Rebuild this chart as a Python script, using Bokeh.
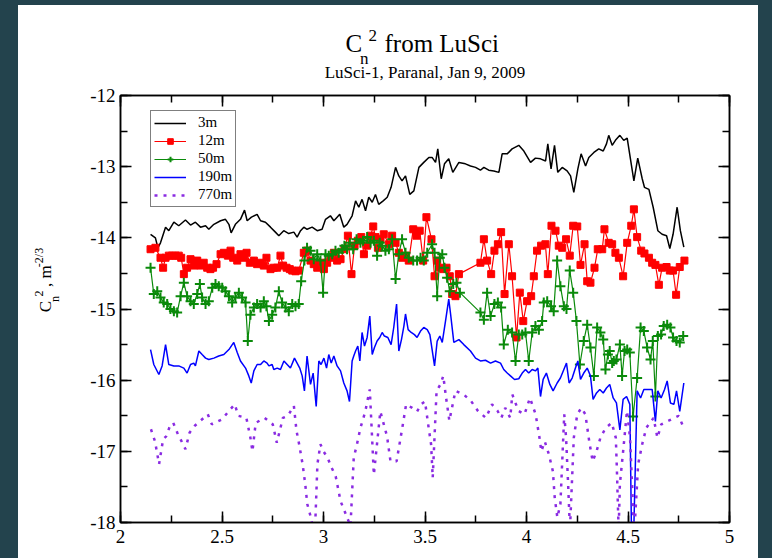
import math
from bokeh.plotting import figure
from bokeh.models import (Legend, LegendItem, LinearAxis, Range1d,
                          SingleIntervalTicker, CustomJSTickFormatter)
from bokeh.core.properties import value
from bokeh.layouts import column, row
from bokeh.embed import file_html
from bokeh.resources import INLINE

# ---------------- data (hour, log10 Cn2) ----------------
cn2_3m = [(2.148,-13.95),(2.172,-14.00),(2.184,-14.14),(2.197,-14.07),(2.222,-13.85),(2.238,-13.90),
    (2.263,-13.78),(2.287,-13.83),(2.320,-13.75),(2.345,-13.82),(2.369,-13.78),(2.394,-13.85),
    (2.419,-13.83),(2.435,-13.88),(2.460,-13.81),(2.493,-13.76),(2.517,-13.74),(2.534,-13.81),
    (2.545,-13.93),(2.566,-13.81),(2.591,-13.74),(2.611,-13.61),(2.624,-13.76),(2.645,-13.71),
    (2.673,-13.67),(2.690,-13.76),(2.714,-13.78),(2.739,-13.85),(2.763,-13.92),(2.780,-13.97),
    (2.804,-13.90),(2.829,-13.94),(2.854,-13.92),(2.870,-13.99),(2.887,-13.90),(2.903,-13.85),
    (2.919,-13.88),(2.944,-13.85),(2.969,-13.90),(2.993,-13.88),(3.010,-13.74),(3.034,-13.69),
    (3.051,-13.76),(3.067,-13.71),(3.080,-13.67),(3.100,-13.85),(3.116,-13.81),(3.141,-13.69),
    (3.158,-13.48),(3.174,-13.57),(3.190,-13.46),(3.207,-13.62),(3.223,-13.43),(3.240,-13.50),
    (3.256,-13.39),(3.272,-13.53),(3.294,-13.48),(3.314,-13.43),(3.333,-13.29),(3.355,-13.01),
    (3.371,-13.13),(3.387,-13.20),(3.404,-13.13),(3.425,-13.39),(3.445,-13.34),(3.470,-13.01),
    (3.494,-12.94),(3.519,-12.87),(3.535,-12.87),(3.552,-12.94),(3.563,-12.75),(3.580,-13.17),
    (3.596,-12.96),(3.617,-12.89),(3.637,-13.08),(3.667,-12.94),(3.699,-12.96),(3.724,-12.99),
    (3.749,-13.01),(3.773,-13.05),(3.790,-13.01),(3.814,-13.05),(3.839,-13.06),(3.864,-13.08),
    (3.880,-12.82),(3.905,-12.82),(3.929,-12.75),(3.962,-12.70),(3.987,-12.78),(4.020,-12.94),
    (4.044,-12.88),(4.069,-12.89),(4.094,-12.92),(4.105,-12.68),(4.121,-13.03),(4.138,-12.70),
    (4.154,-13.08),(4.176,-13.01),(4.200,-13.06),(4.217,-13.13),(4.233,-13.36),(4.253,-13.03),
    (4.269,-12.82),(4.291,-12.99),(4.307,-12.87),(4.332,-12.80),(4.356,-12.75),(4.378,-12.78),
    (4.394,-12.68),(4.405,-12.56),(4.422,-12.70),(4.438,-12.63),(4.460,-12.56),(4.479,-12.63),
    (4.496,-12.60),(4.512,-12.89),(4.529,-13.20),(4.548,-12.88),(4.570,-13.17),(4.581,-13.29),
    (4.603,-13.32),(4.624,-13.57),(4.647,-13.90),(4.668,-13.95),(4.690,-13.97),(4.706,-14.15),
    (4.722,-13.95),(4.742,-13.57),(4.758,-13.90),(4.775,-14.13)]

cn2_12m = [(2.148,-14.16),(2.172,-14.14),(2.197,-14.28),(2.210,-14.42),(2.222,-14.28),(2.238,-14.25),
    (2.254,-14.25),(2.271,-14.25),(2.287,-14.25),(2.299,-14.28),(2.312,-14.51),(2.328,-14.42),
    (2.345,-14.30),(2.361,-14.39),(2.378,-14.32),(2.394,-14.39),(2.410,-14.35),(2.427,-14.42),
    (2.443,-14.44),(2.456,-14.42),(2.473,-14.37),(2.493,-14.23),(2.509,-14.21),(2.529,-14.25),
    (2.542,-14.18),(2.555,-14.28),(2.575,-14.32),(2.591,-14.23),(2.608,-14.28),(2.621,-14.21),
    (2.637,-14.35),(2.657,-14.32),(2.673,-14.37),(2.690,-14.35),(2.706,-14.39),(2.719,-14.28),
    (2.739,-14.44),(2.755,-14.42),(2.772,-14.42),(2.788,-14.25),(2.801,-14.39),(2.818,-14.42),
    (2.834,-14.44),(2.846,-14.46),(2.862,-14.47),(2.878,-14.46),(2.903,-14.21),(2.919,-14.18),
    (2.936,-14.32),(2.952,-14.37),(2.969,-14.42),(2.985,-14.35),(3.002,-14.44),(3.018,-14.35),
    (3.034,-14.28),(3.051,-14.21),(3.067,-14.32),(3.084,-14.30),(3.103,-14.16),(3.120,-13.97),
    (3.138,-14.51),(3.153,-14.11),(3.169,-14.04),(3.186,-13.99),(3.199,-14.23),(3.215,-14.11),
    (3.232,-13.97),(3.245,-13.84),(3.256,-13.99),(3.268,-14.14),(3.281,-14.02),(3.297,-13.95),
    (3.322,-14.09),(3.338,-13.97),(3.355,-14.07),(3.371,-14.21),(3.387,-14.28),(3.404,-14.25),
    (3.420,-14.32),(3.442,-13.88),(3.458,-13.97),(3.474,-13.90),(3.491,-14.32),(3.507,-13.71),
    (3.532,-14.02),(3.547,-14.54),(3.560,-14.32),(3.573,-14.42),(3.590,-14.44),(3.606,-14.42),
    (3.622,-14.54),(3.634,-14.79),(3.650,-14.82),(3.667,-14.51),(3.773,-14.35),(3.790,-14.02),
    (3.806,-14.32),(3.826,-14.51),(3.842,-14.18),(3.859,-14.09),(3.875,-13.92),(3.892,-14.79),
    (3.913,-14.09),(3.929,-14.54),(3.951,-15.40),(3.967,-14.77),(3.984,-15.17),(4.003,-14.89),
    (4.023,-14.82),(4.036,-14.54),(4.052,-14.18),(4.072,-14.11),(4.093,-14.09),(4.105,-14.51),
    (4.123,-13.83),(4.143,-13.90),(4.159,-14.11),(4.176,-14.14),(4.195,-14.02),(4.213,-14.25),
    (4.230,-13.83),(4.250,-13.84),(4.266,-14.38),(4.286,-14.09),(4.299,-14.61),(4.315,-14.63),
    (4.335,-14.42),(4.351,-14.16),(4.373,-14.16),(4.384,-13.88),(4.405,-14.07),(4.422,-14.09),
    (4.438,-14.21),(4.455,-14.28),(4.476,-14.54),(4.496,-14.07),(4.516,-13.83),(4.529,-13.60),
    (4.545,-13.99),(4.565,-14.18),(4.581,-14.22),(4.603,-14.28),(4.619,-14.35),(4.635,-14.38),
    (4.652,-14.66),(4.668,-14.42),(4.690,-14.41),(4.706,-14.46),(4.722,-14.46),(4.737,-14.80),
    (4.755,-14.41),(4.778,-14.32)]

cn2_50m = [(2.148,-14.42),(2.164,-14.79),(2.181,-14.75),(2.197,-14.84),(2.213,-14.91),(2.230,-14.93),
    (2.246,-15.00),(2.263,-15.03),(2.279,-15.05),(2.296,-14.82),(2.312,-14.63),(2.328,-14.82),
    (2.345,-14.89),(2.361,-14.93),(2.378,-14.79),(2.391,-14.65),(2.402,-14.84),(2.419,-14.93),
    (2.435,-14.89),(2.452,-14.70),(2.468,-14.65),(2.484,-14.68),(2.501,-14.70),(2.517,-14.75),
    (2.534,-14.82),(2.550,-14.91),(2.566,-14.84),(2.583,-14.77),(2.599,-14.84),(2.616,-14.91),
    (2.627,-15.45),(2.640,-15.08),(2.657,-14.98),(2.673,-14.93),(2.690,-14.98),(2.706,-14.89),
    (2.719,-14.96),(2.731,-15.17),(2.747,-15.08),(2.763,-14.98),(2.780,-14.75),(2.796,-14.91),
    (2.813,-14.98),(2.829,-15.03),(2.846,-14.93),(2.862,-14.96),(2.878,-14.93),(2.890,-14.61),
    (2.906,-14.32),(2.919,-14.14),(2.936,-14.18),(2.952,-14.30),(2.969,-14.23),(2.985,-14.32),
    (2.998,-14.77),(3.010,-14.23),(3.026,-14.25),(3.043,-14.23),(3.059,-14.18),(3.075,-14.21),
    (3.092,-14.16),(3.103,-14.11),(3.116,-14.16),(3.130,-14.07),(3.146,-14.16),(3.163,-14.02),
    (3.182,-14.07),(3.195,-14.04),(3.215,-13.99),(3.232,-14.07),(3.248,-14.04),(3.264,-14.25),
    (3.277,-14.07),(3.289,-14.11),(3.305,-14.18),(3.322,-14.16),(3.338,-14.02),(3.355,-14.58),
    (3.371,-14.23),(3.387,-14.02),(3.404,-14.21),(3.420,-14.28),(3.442,-14.32),(3.461,-14.32),
    (3.478,-14.28),(3.494,-14.32),(3.511,-14.21),(3.535,-14.09),(3.547,-14.21),(3.560,-14.82),
    (3.573,-14.28),(3.585,-14.23),(3.596,-14.42),(3.609,-14.56),(3.622,-14.75),(3.639,-14.65),
    (3.655,-14.63),(3.672,-14.77),(3.773,-15.05),(3.790,-15.15),(3.806,-14.77),(3.823,-15.10),
    (3.842,-14.93),(3.859,-14.91),(3.875,-14.98),(3.888,-15.50),(3.908,-15.29),(3.929,-15.33),
    (3.946,-15.73),(3.962,-15.36),(3.979,-15.36),(3.995,-15.33),(4.011,-15.73),(4.028,-15.33),
    (4.044,-15.24),(4.061,-15.29),(4.077,-15.17),(4.085,-14.91),(4.102,-14.89),(4.121,-14.96),
    (4.134,-15.03),(4.151,-14.32),(4.167,-14.68),(4.184,-14.96),(4.197,-15.00),(4.213,-14.46),
    (4.230,-14.77),(4.246,-15.17),(4.263,-15.78),(4.282,-15.45),(4.299,-15.22),(4.315,-15.54),
    (4.332,-15.94),(4.348,-15.26),(4.364,-15.33),(4.378,-15.43),(4.389,-15.85),(4.401,-15.64),
    (4.410,-15.59),(4.422,-15.76),(4.430,-15.73),(4.443,-15.71),(4.460,-15.50),(4.471,-15.94),
    (4.483,-15.59),(4.496,-15.57),(4.509,-15.61),(4.525,-16.51),(4.545,-15.97),(4.562,-15.26),
    (4.578,-15.31),(4.594,-15.54),(4.611,-15.71),(4.622,-15.45),(4.635,-16.23),(4.647,-15.38),
    (4.663,-15.36),(4.676,-15.24),(4.693,-15.22),(4.709,-15.26),(4.722,-15.40),(4.739,-15.45),
    (4.755,-15.47),(4.772,-15.38)]

cn2_190m = [(2.148,-15.57),(2.164,-15.78),(2.189,-15.92),(2.205,-15.80),(2.222,-15.50),(2.238,-15.78),
    (2.263,-15.80),(2.287,-15.80),(2.312,-15.83),(2.328,-15.90),(2.345,-15.78),(2.361,-15.76),
    (2.369,-15.80),(2.386,-15.59),(2.402,-15.64),(2.419,-15.69),(2.435,-15.71),(2.460,-15.69),
    (2.484,-15.66),(2.509,-15.64),(2.534,-15.57),(2.558,-15.47),(2.575,-15.61),(2.591,-15.73),
    (2.616,-15.83),(2.632,-15.94),(2.644,-16.04),(2.657,-15.87),(2.673,-15.78),(2.690,-15.78),
    (2.706,-15.73),(2.722,-15.76),(2.731,-15.80),(2.747,-15.78),(2.755,-15.85),(2.772,-15.83),
    (2.788,-15.85),(2.805,-15.73),(2.821,-15.78),(2.837,-15.83),(2.857,-15.69),(2.870,-15.76),
    (2.883,-15.83),(2.895,-15.94),(2.906,-16.15),(2.919,-15.66),(2.936,-16.06),(2.949,-15.90),
    (2.964,-16.37),(2.977,-15.73),(2.988,-15.78),(3.002,-15.69),(3.015,-15.83),(3.026,-15.64),
    (3.038,-15.76),(3.051,-15.66),(3.067,-15.80),(3.084,-15.87),(3.100,-16.04),(3.116,-16.15),
    (3.128,-16.30),(3.141,-15.73),(3.149,-15.66),(3.158,-15.59),(3.169,-15.52),(3.179,-15.73),
    (3.190,-15.33),(3.202,-15.52),(3.215,-15.40),(3.228,-15.10),(3.240,-15.64),(3.251,-15.54),
    (3.264,-15.45),(3.277,-15.40),(3.289,-15.33),(3.300,-15.38),(3.317,-15.40),(3.333,-15.50),
    (3.346,-15.26),(3.360,-14.93),(3.371,-15.59),(3.384,-15.43),(3.396,-15.24),(3.404,-15.07),
    (3.417,-15.29),(3.432,-15.33),(3.448,-15.36),(3.461,-15.40),(3.478,-15.31),(3.494,-15.26),
    (3.511,-15.29),(3.524,-15.36),(3.547,-15.80),(3.560,-15.45),(3.573,-15.38),(3.585,-15.47),
    (3.601,-15.17),(3.617,-14.86),(3.626,-15.07),(3.642,-15.47),(3.667,-15.43),(3.691,-15.50),
    (3.724,-15.59),(3.749,-15.69),(3.773,-15.73),(3.798,-15.72),(3.823,-15.76),(3.847,-15.73),
    (3.872,-15.76),(3.888,-15.85),(3.905,-15.90),(3.921,-15.94),(3.941,-15.99),(3.962,-15.98),
    (3.979,-15.90),(3.995,-15.85),(4.011,-15.90),(4.028,-15.85),(4.044,-15.87),(4.056,-15.83),
    (4.069,-16.23),(4.082,-15.99),(4.098,-15.90),(4.115,-16.06),(4.131,-16.15),(4.151,-16.04),
    (4.167,-15.97),(4.181,-15.87),(4.197,-15.76),(4.210,-16.04),(4.225,-15.97),(4.241,-15.83),
    (4.253,-15.73),(4.266,-15.99),(4.282,-15.90),(4.299,-15.83),(4.315,-15.94),(4.328,-16.27),
    (4.345,-16.18),(4.361,-16.13),(4.378,-16.18),(4.394,-16.11),(4.410,-16.06),(4.427,-16.25),
    (4.443,-16.32),(4.460,-16.70),(4.476,-16.27),(4.493,-16.23),(4.509,-16.34),(4.521,-19.00),
    (4.545,-16.15),(4.562,-16.25),(4.578,-16.13),(4.598,-16.13),(4.619,-16.13),(4.635,-16.58),
    (4.647,-16.15),(4.663,-16.25),(4.680,-16.13),(4.693,-16.01),(4.709,-16.32),(4.726,-16.34),
    (4.739,-16.15),(4.755,-16.44),(4.775,-16.04)]

cn2_770m = [(2.150,-16.69),(2.170,-16.86),(2.190,-17.18),(2.210,-16.83),(2.225,-16.79),(2.244,-16.64),
    (2.260,-16.60),(2.280,-16.74),(2.320,-16.97),(2.340,-16.74),(2.366,-16.64),(2.394,-16.57),
    (2.430,-16.48),(2.450,-16.62),(2.500,-16.55),(2.535,-16.43),(2.563,-16.34),(2.580,-16.50),
    (2.620,-16.53),(2.640,-16.81),(2.650,-17.00),(2.666,-16.60),(2.710,-16.53),(2.750,-16.62),
    (2.770,-16.88),(2.800,-16.53),(2.825,-16.50),(2.854,-16.36),(2.867,-16.71),(2.880,-16.90),
    (2.897,-17.18),(2.910,-17.46),(2.920,-17.74),(2.938,-17.93),(2.957,-18.20),(2.970,-17.18),
    (2.985,-16.90),(3.000,-17.00),(3.020,-17.09),(3.040,-17.23),(3.060,-17.35),(3.084,-17.70),
    (3.108,-17.87),(3.133,-18.05),(3.149,-17.09),(3.165,-16.90),(3.182,-16.67),(3.205,-16.45),
    (3.228,-16.13),(3.248,-17.33),(3.280,-16.44),(3.313,-16.79),(3.330,-17.14),(3.360,-17.14),
    (3.387,-16.69),(3.407,-16.34),(3.437,-16.39),(3.461,-16.44),(3.480,-16.34),(3.500,-16.30),
    (3.520,-16.71),(3.530,-16.90),(3.538,-17.37),(3.557,-16.15),(3.576,-16.06),(3.590,-15.94),
    (3.604,-16.25),(3.620,-16.57),(3.650,-16.15),(3.690,-16.20),(3.726,-16.29),(3.760,-16.43),
    (3.800,-16.53),(3.830,-16.34),(3.857,-16.43),(3.876,-16.53),(3.895,-16.39),(3.920,-16.53),
    (3.930,-16.20),(3.960,-16.43),(3.990,-16.48),(4.017,-16.25),(4.045,-16.48),(4.064,-16.81),
    (4.073,-17.00),(4.090,-16.86),(4.110,-17.04),(4.130,-17.28),(4.139,-17.65),(4.152,-17.93),
    (4.167,-17.74),(4.186,-16.48),(4.195,-16.81),(4.205,-17.46),(4.214,-18.10),(4.233,-16.81),
    (4.250,-16.48),(4.270,-16.39),(4.290,-16.48),(4.310,-16.88),(4.326,-17.14),(4.345,-17.00),
    (4.364,-16.81),(4.390,-16.67),(4.420,-16.60),(4.440,-16.81),(4.445,-17.23),(4.450,-17.74),
    (4.454,-18.10),(4.460,-17.46),(4.476,-17.00),(4.495,-16.43),(4.510,-16.81),(4.520,-17.46),
    (4.530,-18.20),(4.550,-17.18),(4.570,-16.90),(4.590,-16.67),(4.626,-16.53),(4.645,-16.81),
    (4.664,-16.62),(4.700,-16.57),(4.750,-16.50),(4.770,-16.64)]

series_labels = ["3m", "12m", "50m", "190m", "770m"]
title_parts = ["C", "n", "2", "from LuSci"]
subtitle = "LuSci-1, Paranal, Jan 9, 2009"
ylabel_parts = ["C", "n", "2", ", m", "-2/3"]
x_ticks_interval = 0.5
y_ticks_interval = 1.0


def split(pts):
    return [a for a, _ in pts], [b for _, b in pts]


SERIF = "Liberation Serif"


def text_panel(w, h):
    f = figure(width=w, height=h, x_range=Range1d(0, w), y_range=Range1d(h, 0),
               output_backend="svg", toolbar_location=None, title=None,
               x_axis_location=None, y_axis_location=None, min_border=0)
    f.outline_line_color = None
    f.xgrid.visible = False
    f.ygrid.visible = False
    f.background_fill_color = "white"
    f.border_fill_color = "white"
    return f


def put(f, txt, x, y, size, align="left", angle=0.0):
    f.text(x=[x], y=[y], text=[txt], angle=angle, text_align=align,
           text_baseline="alphabetic", text_color="black",
           text_font=value(SERIF), text_font_size=value(size))


# ---------------- title panel (page y 5..83) ----------------
tp = text_panel(740, 78)
put(tp, title_parts[0], 327, 38, "25px")
put(tp, title_parts[1], 341.5, 53, "17px")
put(tp, title_parts[2], 350, 30, "17px")
put(tp, title_parts[3], 366, 38, "25px")
put(tp, subtitle, 406.5, 67, "17px", align="center")

# ---------------- y label panel (page x 18..78, y 83..558) ----------------
yp = text_panel(60, 475)
A = math.pi / 2
put(yp, ylabel_parts[0], 27, 241, "17px", angle=A)
put(yp, ylabel_parts[1], 36.4, 229.7, "12px", angle=A)
put(yp, ylabel_parts[2], 20.4, 223.5, "12px", angle=A)
put(yp, ylabel_parts[3], 27, 213, "17px", angle=A)
put(yp, ylabel_parts[4], 20.4, 191, "12px", angle=A)

# ---------------- main plot ----------------
p = figure(width=680, height=475, x_range=Range1d(2, 5), y_range=Range1d(-18, -12),
           output_backend="svg", toolbar_location=None, title=None,
           min_border_left=42, min_border_right=29, min_border_top=12, min_border_bottom=36)
p.background_fill_color = "white"
p.border_fill_color = "white"
p.outline_line_color = "black"
p.outline_line_width = 1.5
p.xgrid.visible = False
p.ygrid.visible = False

fmt = CustomJSTickFormatter(code="return String(tick)")
blank = CustomJSTickFormatter(code="return ''")


def style_axis(ax, ticker, formatter, fsize="19px"):
    ax.ticker = ticker
    ax.formatter = formatter
    ax.axis_line_color = "black"
    ax.axis_line_width = 1.5
    ax.major_tick_in = 11
    ax.major_tick_out = 0
    ax.minor_tick_in = 7
    ax.minor_tick_out = 0
    ax.major_tick_line_color = "black"
    ax.minor_tick_line_color = "black"
    ax.major_tick_line_width = 1.5
    ax.minor_tick_line_width = 1.5
    ax.major_label_text_font = SERIF
    ax.major_label_text_font_size = fsize
    ax.major_label_text_color = "black"


style_axis(p.xaxis[0], SingleIntervalTicker(interval=x_ticks_interval, num_minor_ticks=2), fmt)
style_axis(p.yaxis[0], SingleIntervalTicker(interval=y_ticks_interval, num_minor_ticks=2), fmt)
p.xaxis[0].major_label_standoff = 7
p.yaxis[0].major_label_standoff = 5

top_ax = LinearAxis()
right_ax = LinearAxis()
style_axis(top_ax, SingleIntervalTicker(interval=x_ticks_interval, num_minor_ticks=2), blank, "0px")
style_axis(right_ax, SingleIntervalTicker(interval=y_ticks_interval, num_minor_ticks=2), blank, "0px")
top_ax.major_label_standoff = 0
right_ax.major_label_standoff = 0
p.add_layout(top_ax, "above")
p.add_layout(right_ax, "right")

x, y = split(cn2_3m)
r3 = p.line(x, y, line_color="black", line_width=1.5)

x, y = split(cn2_12m)
r12l = p.line(x, y, line_color="#ff0000", line_width=1.2)
r12m = p.scatter(x, y, marker="square", size=7, fill_color="#ff0000", line_color="#ff0000")

x, y = split(cn2_50m)
r50l = p.line(x, y, line_color="#0a8a0a", line_width=1.2)
r50m = p.scatter(x, y, marker="cross", size=10, line_color="#0a8a0a", line_width=2)

x, y = split(cn2_190m)
r190 = p.line(x, y, line_color="#0000ff", line_width=1.5)

x, y = split(cn2_770m)
r770 = p.line(x, y, line_color="#8a2be2", line_width=2.5, line_dash="3 6")

legend = Legend(items=[
    LegendItem(label=series_labels[0], renderers=[r3]),
    LegendItem(label=series_labels[1], renderers=[r12l, r12m]),
    LegendItem(label=series_labels[2], renderers=[r50l, r50m]),
    LegendItem(label=series_labels[3], renderers=[r190]),
    LegendItem(label=series_labels[4], renderers=[r770]),
], location=(30, 315))
legend.border_line_color = "black"
legend.border_line_width = 1.5
legend.background_fill_color = "white"
legend.background_fill_alpha = 1.0
legend.label_text_font = SERIF
legend.label_text_font_size = "15px"
legend.label_text_color = "black"
legend.glyph_width = 32
legend.glyph_height = 14
legend.label_height = 14
legend.spacing = 1
legend.padding = 3
legend.margin = 0
legend.label_standoff = 12
p.add_layout(legend)

inner = column(tp, row(yp, p), styles={"background-color": "white"})
inner.margin = (5, 14, 0, 18)
root = column(inner, width=772, height=558, styles={"background-color": "#23434d"})

open("out.html", "w").write(file_html(root, INLINE))
